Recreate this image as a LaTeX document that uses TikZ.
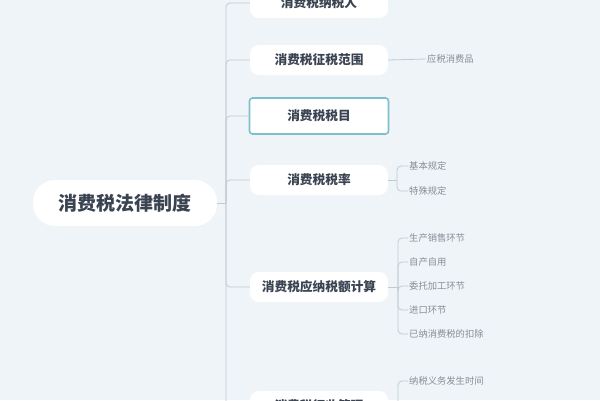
\documentclass[tikz,border=0pt]{standalone}
\usepackage{fontspec}
\setmainfont{Noto Sans CJK SC}
\definecolor{bgc}{HTML}{EEF4F8}
\definecolor{linec}{HTML}{BFCAD1}
\definecolor{textc}{HTML}{3A4352}
\definecolor{leafc}{HTML}{858E97}
\definecolor{selc}{HTML}{7DBFCB}
\tikzset{
  rootbox/.style={fill=white, rounded corners=22pt, minimum width=184pt, minimum height=46pt, inner sep=0pt,
    font=\bfseries\fontsize{19}{22}\selectfont, text=textc},
  branch/.style={fill=white, rounded corners=9pt, minimum width=138pt, minimum height=30pt, inner sep=0pt,
    font=\bfseries\fontsize{12.7}{15}\selectfont, text=textc},
  selbranch/.style={branch, draw=selc, line width=1.6pt, rounded corners=3pt, minimum width=139pt, minimum height=36pt},
  leaf/.style={anchor=west, inner sep=1pt, font=\fontsize{9.3}{11}\selectfont, text=leafc},
  conn/.style={draw=linec, line width=0.8pt, rounded corners=4pt},
}
\begin{document}
\begin{tikzpicture}[x=1pt,y=-1pt]
\useasboundingbox (0,0) rectangle (600,400);
\fill[bgc] (0,0) rectangle (600,400);
\clip (0,0) rectangle (600,400);
% root and branches
\node[rootbox] (root) at (125,203) {消费税法律制度};
\node[branch] (n1) at (319,3) {消费税纳税人};
\node[branch] (n2) at (319,60) {消费税征税范围};
\node[selbranch] (n3) at (319,116) {消费税税目};
\node[branch] (n4) at (319,180) {消费税税率};
\node[branch] (n5) at (319,287) {消费税应纳税额计算};
\node[branch] (n6) at (319,406) {消费税征收管理};
% leaves
\node[leaf] (l21) at (426,59) {应税消费品};
\node[leaf] (l41) at (408,166) {基本规定};
\node[leaf] (l42) at (408,191) {特殊规定};
\node[leaf] (l51) at (408,238) {生产销售环节};
\node[leaf] (l52) at (408,262) {自产自用};
\node[leaf] (l53) at (408,286) {委托加工环节};
\node[leaf] (l54) at (408,310) {进口环节};
\node[leaf] (l55) at (408,334) {已纳消费税的扣除};
\node[leaf] (l61) at (408,381) {纳税义务发生时间};
% trunk
\coordinate (T) at (226,203);
\draw[conn] (root.east) -- (T);
\foreach \n in {n1,n2,n3,n4,n5,n6} {
  \draw[conn] (T) |- (\n.west);
}
% leaf connectors
\draw[conn] (n2.east) -- (l21.west);
\coordinate (B4) at (397,180);
\draw[conn] (n4.east) -- (B4);
\foreach \l in {l41,l42} { \draw[conn] (B4) |- (\l.west); }
\coordinate (B5) at (398,287);
\draw[conn] (n5.east) -- (B5);
\foreach \l in {l51,l52,l53,l54,l55} { \draw[conn] (B5) |- (\l.west); }
\coordinate (B6) at (398,406);
\coordinate (B6end) at (398,430);
\draw[conn] (n6.east) -- (B6);
\draw[conn] (B6end) -- (B6) |- (l61.west);
\end{tikzpicture}
\end{document}
